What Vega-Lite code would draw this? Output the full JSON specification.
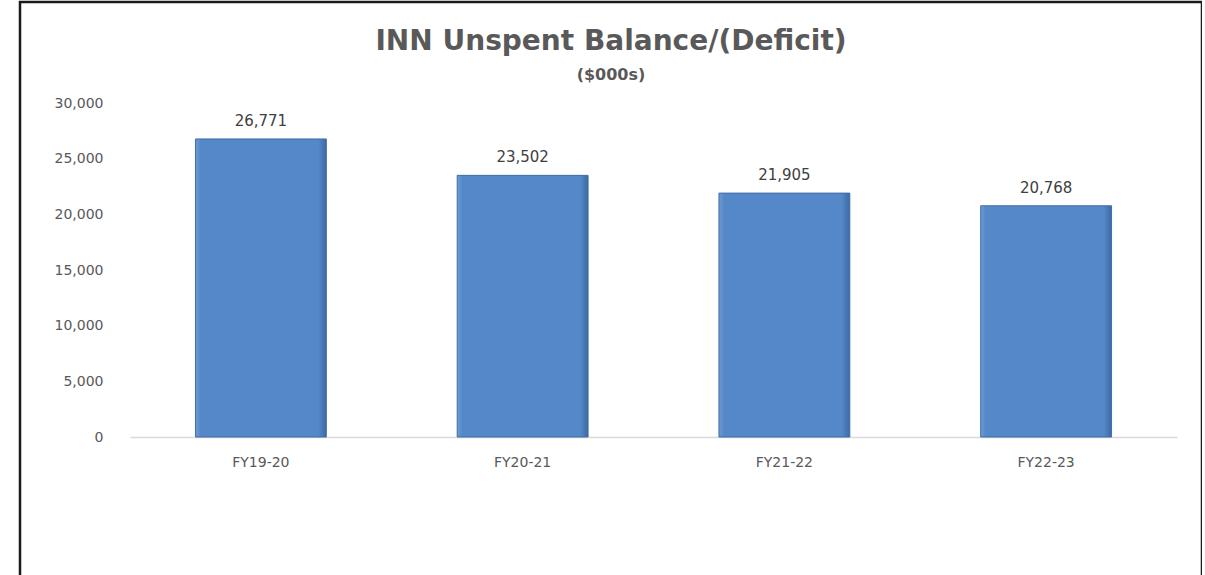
{
  "$schema": "https://vega.github.io/schema/vega-lite/v6.json",
  "autosize": "none",
  "width": 1182,
  "height": 600,
  "padding": {"left": 20, "top": 2, "right": 0, "bottom": 0},
  "background": "white",
  "config": {
    "view": {"stroke": "#1a1a1a", "strokeWidth": 2.5},
    "font": "DejaVu Sans"
  },
  "title": {
    "text": "INN Unspent Balance/(Deficit)",
    "subtitle": "($000s)",
    "font": "DejaVu Sans",
    "fontSize": 28,
    "fontWeight": "bold",
    "color": "#595959",
    "subtitleFont": "DejaVu Sans",
    "subtitleFontSize": 16,
    "subtitleFontWeight": "bold",
    "subtitleColor": "#595959",
    "subtitlePadding": 11,
    "anchor": "middle",
    "frame": "group",
    "orient": "top",
    "offset": -81
  },
  "data": {
    "values": [
      {"year": "FY19-20", "value": 26771},
      {"year": "FY20-21", "value": 23502},
      {"year": "FY21-22", "value": 21905},
      {"year": "FY22-23", "value": 20768}
    ]
  },
  "encoding": {
    "x": {
      "field": "year",
      "type": "nominal",
      "sort": null,
      "scale": {"range": [110, 1157], "paddingInner": 0.5, "paddingOuter": 0.25},
      "axis": {
        "title": null,
        "orient": "bottom",
        "offset": -165,
        "labelAngle": 0,
        "labelFont": "DejaVu Sans",
        "labelFontSize": 14,
        "labelColor": "#595959",
        "labelPadding": 18,
        "ticks": false,
        "tickSize": 0,
        "domainColor": "#d9d9d9",
        "domainWidth": 1.5,
        "grid": false
      }
    },
    "y": {
      "field": "value",
      "type": "quantitative",
      "scale": {"domain": [0, 30000], "range": [435, 101], "nice": false},
      "axis": {
        "title": null,
        "orient": "left",
        "offset": -110,
        "values": [0, 5000, 10000, 15000, 20000, 25000, 30000],
        "format": ",d",
        "labelFont": "DejaVu Sans",
        "labelFontSize": 14,
        "labelColor": "#595959",
        "labelPadding": 27,
        "ticks": false,
        "tickSize": 0,
        "domain": false,
        "grid": false
      }
    }
  },
  "layer": [
    {
      "mark": {
        "type": "bar",
        "stroke": "#3f6da8",
        "strokeWidth": 1,
        "color": {
          "gradient": "linear",
          "x1": 0, "y1": 0, "x2": 1, "y2": 0,
          "stops": [
            {"offset": 0, "color": "#6f9ad2"},
            {"offset": 0.04, "color": "#5588c8"},
            {"offset": 0.94, "color": "#5588c8"},
            {"offset": 1, "color": "#3c6aa3"}
          ]
        }
      }
    },
    {
      "mark": {
        "type": "text",
        "baseline": "alphabetic",
        "dy": -13,
        "font": "DejaVu Sans",
        "fontSize": 15,
        "color": "#404040"
      },
      "encoding": {
        "text": {"field": "value", "type": "quantitative", "format": ",d"}
      }
    }
  ]
}
